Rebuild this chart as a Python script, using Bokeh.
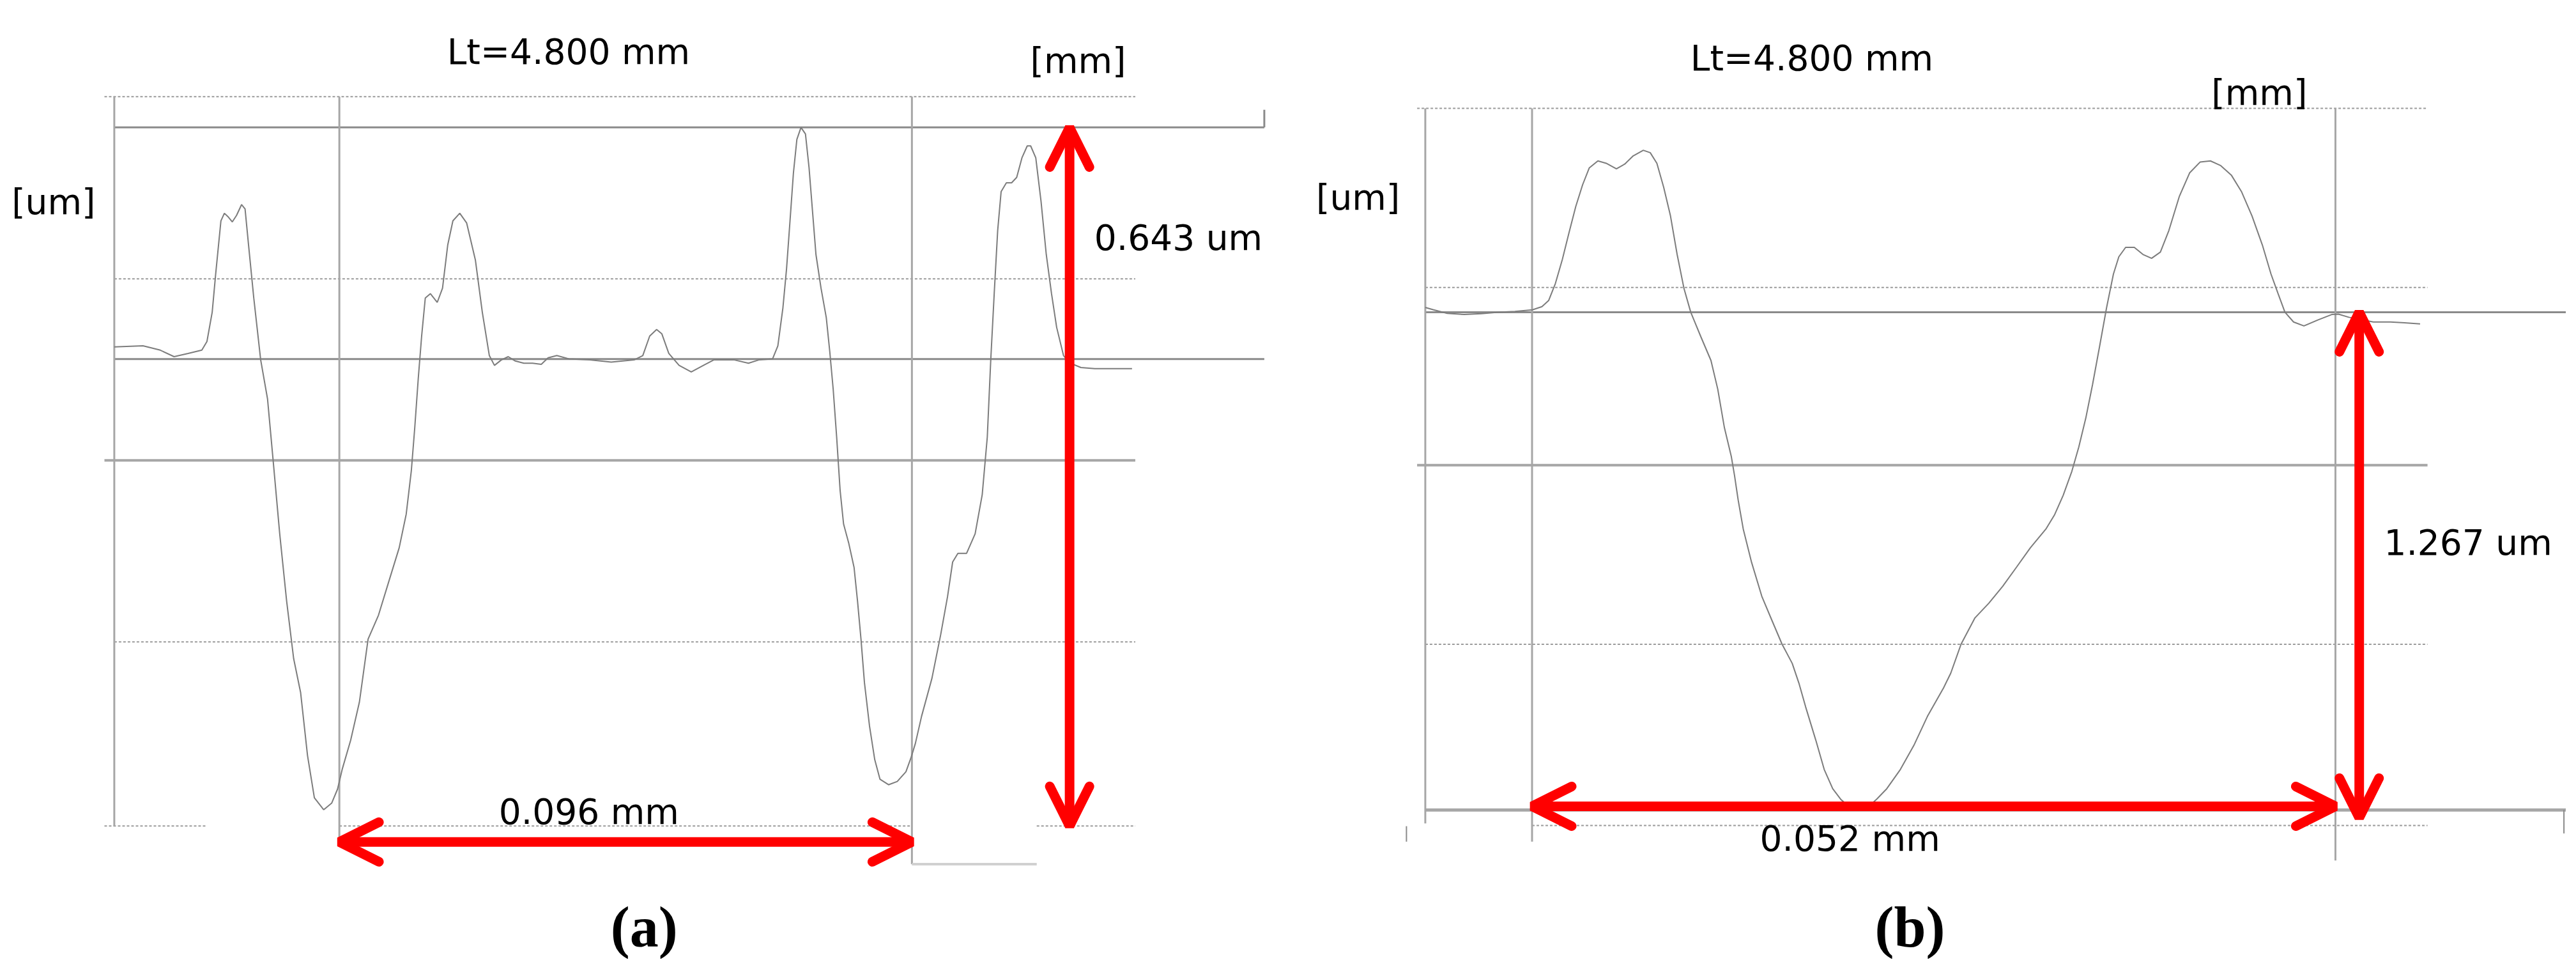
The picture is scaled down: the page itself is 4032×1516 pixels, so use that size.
from bokeh.plotting import figure
from bokeh.models import Range1d, Arrow, OpenHead, Label
from bokeh.layouts import row
from bokeh.embed import file_html
from bokeh.resources import INLINE

# ---------------- panel (a) data : x in mm, z in um ----------------
a_x_mm = [0.0000, 0.00481, 0.00771, 0.01003, 0.01237, 0.01468, 0.01554, 0.01642, 0.01700, 0.01788,
          0.01846, 0.01904, 0.01978, 0.02050, 0.02135, 0.02193, 0.02251, 0.02339, 0.02455, 0.02570,
          0.02658, 0.02774, 0.02890, 0.03008, 0.03124, 0.03240, 0.03355, 0.03512, 0.03645, 0.03744,
          0.03821, 0.03964, 0.04110, 0.04256, 0.04430, 0.04603, 0.04777, 0.04895, 0.04981, 0.05039,
          0.05096, 0.05154, 0.05215, 0.05300, 0.05416, 0.05504, 0.05592, 0.05678, 0.05793, 0.05909,
          0.06055, 0.06171, 0.06289, 0.06375, 0.06490, 0.06606, 0.06725, 0.06868, 0.07014, 0.07160,
          0.07275, 0.07421, 0.07623, 0.07975, 0.08333, 0.08716, 0.08862, 0.08978, 0.09094, 0.09182,
          0.09298, 0.09471, 0.09675, 0.09879, 0.10052, 0.10226, 0.10399, 0.10634, 0.10807, 0.11039,
          0.11127, 0.11212, 0.11273, 0.11331, 0.11388, 0.11446, 0.11515, 0.11590, 0.11650, 0.11708,
          0.11766, 0.11851, 0.11939, 0.11997, 0.12055, 0.12113, 0.12171, 0.12229, 0.12317, 0.12405,
          0.12463, 0.12521, 0.12579, 0.12664, 0.12752, 0.12840, 0.12983, 0.13129, 0.13275, 0.13361,
          0.13433, 0.13537, 0.13711, 0.13857, 0.13972, 0.14058, 0.14146, 0.14292, 0.14435, 0.14554,
          0.14639, 0.14697, 0.14755, 0.14813, 0.14871, 0.14959, 0.15047, 0.15132, 0.15220, 0.15309,
          0.15366, 0.15452, 0.15540, 0.15628, 0.15716, 0.15802, 0.15917, 0.16033, 0.16209, 0.16441,
          0.16730, 0.17066]
a_z_um = [0.441, 0.442, 0.438, 0.432, 0.435, 0.438, 0.446, 0.473, 0.508, 0.557,
          0.564, 0.561, 0.556, 0.562, 0.572, 0.568, 0.535, 0.486, 0.429, 0.393,
          0.340, 0.269, 0.207, 0.154, 0.123, 0.065, 0.026, 0.015, 0.021, 0.034,
          0.052, 0.079, 0.114, 0.172, 0.194, 0.225, 0.256, 0.287, 0.327, 0.367,
          0.411, 0.451, 0.486, 0.490, 0.482, 0.495, 0.535, 0.557, 0.564, 0.555,
          0.521, 0.473, 0.433, 0.424, 0.429, 0.432, 0.428, 0.426, 0.426, 0.425,
          0.431, 0.433, 0.430, 0.429, 0.427, 0.429, 0.433, 0.451, 0.457, 0.453,
          0.435, 0.424, 0.418, 0.424, 0.429, 0.429, 0.429, 0.426, 0.429, 0.430,
          0.442, 0.477, 0.513, 0.557, 0.601, 0.632, 0.643, 0.637, 0.606, 0.566,
          0.526, 0.495, 0.468, 0.437, 0.402, 0.358, 0.309, 0.278, 0.260, 0.238,
          0.207, 0.172, 0.132, 0.092, 0.061, 0.043, 0.038, 0.041, 0.050, 0.063,
          0.076, 0.101, 0.136, 0.176, 0.211, 0.243, 0.251, 0.251, 0.269, 0.305,
          0.358, 0.429, 0.490, 0.548, 0.584, 0.592, 0.592, 0.597, 0.615, 0.626,
          0.626, 0.615, 0.575, 0.526, 0.490, 0.459, 0.433, 0.426, 0.422, 0.421,
          0.421, 0.421]
a_grid_um = [0.0, 0.1694, 0.3365, 0.5036, 0.6713]
a_peak_um = 0.643
a_mean_um = 0.4298
a_cursor_mm = [0.03774, 0.13375]
a_title = "Lt=4.800 mm"
a_height_label = "0.643 um"
a_width_label = "0.096 mm"
a_tag = "(a)"

# ---------------- panel (b) data : x in mm, z in um ----------------
b_x_mm = [0.00000, 0.00054, 0.00142, 0.00252, 0.00362, 0.00471, 0.00580, 0.00693, 0.00755, 0.00799,
          0.00842, 0.00887, 0.00930, 0.00974, 0.01018, 0.01061, 0.01117, 0.01171, 0.01237, 0.01291,
          0.01346, 0.01411, 0.01456, 0.01499, 0.01543, 0.01587, 0.01630, 0.01674, 0.01718, 0.01783,
          0.01849, 0.01893, 0.01936, 0.01981, 0.02002, 0.02025, 0.02058, 0.02112, 0.02178, 0.02243,
          0.02309, 0.02375, 0.02418, 0.02462, 0.02528, 0.02582, 0.02637, 0.02691, 0.02747, 0.02813,
          0.02867, 0.02921, 0.02987, 0.03075, 0.03162, 0.03250, 0.03355, 0.03401, 0.03468, 0.03558,
          0.03647, 0.03737, 0.03827, 0.03916, 0.04017, 0.04074, 0.04129, 0.04185, 0.04230, 0.04275,
          0.04319, 0.04365, 0.04410, 0.04454, 0.04489, 0.04533, 0.04589, 0.04645, 0.04701, 0.04758,
          0.04813, 0.04880, 0.04948, 0.05015, 0.05082, 0.05149, 0.05217, 0.05284, 0.05351, 0.05418,
          0.05474, 0.05519, 0.05564, 0.05620, 0.05687, 0.05777, 0.05867, 0.05911, 0.05978, 0.06046,
          0.06136, 0.06247, 0.06338, 0.06439]
b_z_um = [1.279, 1.273, 1.264, 1.261, 1.263, 1.267, 1.269, 1.273, 1.281, 1.297,
          1.340, 1.401, 1.469, 1.536, 1.591, 1.634, 1.652, 1.646, 1.632, 1.644,
          1.665, 1.679, 1.673, 1.646, 1.585, 1.512, 1.414, 1.328, 1.267, 1.205,
          1.144, 1.071, 0.973, 0.899, 0.850, 0.789, 0.715, 0.630, 0.544, 0.483,
          0.422, 0.373, 0.323, 0.262, 0.177, 0.103, 0.054, 0.026, 0.008, 0.000,
          0.008, 0.027, 0.054, 0.103, 0.164, 0.238, 0.311, 0.348, 0.422, 0.489,
          0.526, 0.569, 0.618, 0.667, 0.715, 0.752, 0.801, 0.862, 0.924, 0.997,
          1.083, 1.181, 1.279, 1.364, 1.408, 1.432, 1.432, 1.414, 1.404, 1.420,
          1.475, 1.561, 1.622, 1.649, 1.652, 1.640, 1.616, 1.573, 1.512, 1.438,
          1.364, 1.315, 1.267, 1.242, 1.232, 1.247, 1.261, 1.262, 1.254, 1.249,
          1.242, 1.242, 1.240, 1.237]
b_grid_um = [-0.0397, 0.4218, 0.8774, 1.330, 1.786]
b_mean_um = 1.267
b_valley_um = 0.0
b_cursor_mm = [0.00691, 0.05891]
b_title = "Lt=4.800 mm"
b_height_label = "1.267 um"
b_width_label = "0.052 mm"
b_tag = "(b)"

unit_x = "[mm]"
unit_z = "[um]"

# ---------------- styles ----------------
GRID_C = "#9c9c9c"
LINE_C = "#8a8a8a"
THICK_C = "#a6a6a6"
PROF_C = "#7c7c7c"
RED = "#ff0000"
SANS = "DejaVu Sans"
FS = "55px"


def base_fig(xr, yr):
    p = figure(width=2008, height=1500, x_range=Range1d(*xr), y_range=Range1d(*yr),
               x_axis_type=None, y_axis_type=None, toolbar_location=None,
               output_backend="svg", min_border=0, outline_line_color=None,
               background_fill_color="white", border_fill_color="white")
    return p


def arrow(p, x0, y0, x1, y1):
    p.add_layout(Arrow(x_start=x0, y_start=y0, x_end=x1, y_end=y1,
                       line_color=RED, line_width=15,
                       start=OpenHead(size=62, line_color=RED, line_width=15, line_cap="round"),
                       end=OpenHead(size=62, line_color=RED, line_width=15, line_cap="round")))


def label(p, x, y, text, align="left", font=SANS, size=FS, style="normal"):
    p.add_layout(Label(x=x, y=y, text=text, text_font=font, text_font_size=size,
                       text_font_style=style, text_align=align, text_baseline="middle",
                       text_color="black"))


# ================= panel (a) =================
pa = base_fig((-0.01911, 0.19601), (-0.1225, 0.7600))
ax_l, ax_r, ax_ext = -0.00165, 0.17121, 0.19284
g = a_grid_um
# dotted grid
pa.segment(x0=[ax_l, 0, 0], y0=[g[4], g[3], g[1]], x1=[ax_r] * 3, y1=[g[4], g[3], g[1]],
           line_color=GRID_C, line_width=2, line_dash="4 3")
pa.segment(x0=[ax_l, a_cursor_mm[0], 0.15468], y0=[g[0]] * 3,
           x1=[0.01543, a_cursor_mm[1], ax_r], y1=[g[0]] * 3,
           line_color=GRID_C, line_width=2, line_dash="4 3")
# middle solid line
pa.segment(x0=[ax_l], y0=[g[2]], x1=[ax_r], y1=[g[2]], line_color=THICK_C, line_width=4)
# peak and mean lines
pa.segment(x0=[0, 0], y0=[a_peak_um, a_mean_um], x1=[ax_ext, ax_ext], y1=[a_peak_um, a_mean_um],
           line_color=LINE_C, line_width=3)
pa.segment(x0=[ax_ext], y0=[a_peak_um], x1=[ax_ext], y1=[0.6593], line_color=LINE_C, line_width=3)
# verticals
pa.segment(x0=[0, a_cursor_mm[0], a_cursor_mm[1]], y0=[g[0], -0.0174, -0.0351],
           x1=[0, a_cursor_mm[0], a_cursor_mm[1]], y1=[g[4]] * 3,
           line_color=THICK_C, line_width=3)
pa.segment(x0=[a_cursor_mm[1]], y0=[-0.0351], x1=[0.15468], y1=[-0.0351],
           line_color="#d0d0d0", line_width=4)
# profile
pa.line(a_x_mm, a_z_um, line_color=PROF_C, line_width=2)
# arrows
arrow(pa, a_cursor_mm[0], -0.0147, a_cursor_mm[1], -0.0147)
arrow(pa, 0.16019, g[0], 0.16019, a_peak_um)
# texts
label(pa, 0.07617, 0.7127, a_title, align="center")
label(pa, 0.15358, 0.7042, unit_x)
label(pa, -0.01722, 0.5741, unit_z)
label(pa, 0.16433, 0.5416, a_height_label)
label(pa, 0.0796, 0.0129, a_width_label, align="center")
label(pa, 0.08884, -0.0930, a_tag, align="center", font="Liberation Serif", size="90px", style="bold")

# ================= panel (b) =================
pb = base_fig((-0.009197, 0.07384), (-0.3797, 2.0608))
bx_l, bx_r, bx_ext = -0.00053, 0.06487, 0.0739
g = b_grid_um
pb.segment(x0=[bx_l, 0, 0], y0=[g[4], g[3], g[1]], x1=[bx_r] * 3, y1=[g[4], g[3], g[1]],
           line_color=GRID_C, line_width=2, line_dash="4 3")
pb.segment(x0=[b_cursor_mm[0]], y0=[g[0]], x1=[bx_r], y1=[g[0]],
           line_color=GRID_C, line_width=2, line_dash="4 3")
pb.segment(x0=[bx_l], y0=[g[2]], x1=[bx_r], y1=[g[2]], line_color=THICK_C, line_width=4)
pb.segment(x0=[0], y0=[b_mean_um], x1=[bx_ext], y1=[b_mean_um], line_color=LINE_C, line_width=3)
pb.segment(x0=[0], y0=[b_valley_um], x1=[bx_ext], y1=[b_valley_um], line_color=THICK_C, line_width=5)
pb.segment(x0=[0, b_cursor_mm[0], b_cursor_mm[1]], y0=[-0.0343, -0.0808, -0.1289],
           x1=[0, b_cursor_mm[0], b_cursor_mm[1]], y1=[g[4]] * 3,
           line_color=THICK_C, line_width=3)
pb.segment(x0=[-0.00122, 0.0737], y0=[-0.0414, 0.0], x1=[-0.00122, 0.0737], y1=[-0.0808, -0.0598],
           line_color=LINE_C, line_width=2)
pb.line(b_x_mm, b_z_um, line_color=PROF_C, line_width=2)
arrow(pb, b_cursor_mm[0], 0.0092, b_cursor_mm[1], 0.0092)
arrow(pb, 0.06045, b_valley_um - 0.02, 0.06045, b_mean_um)
label(pb, 0.02502, 1.914, b_title, align="center")
label(pb, 0.05088, 1.826, unit_x)
label(pb, -0.00707, 1.559, unit_z)
label(pb, 0.06205, 0.681, b_height_label)
label(pb, 0.02749, -0.0724, b_width_label, align="center")
label(pb, 0.03137, -0.2983, b_tag, align="center", font="Liberation Serif", size="90px", style="bold")

layout = row(pa, pb, spacing=0)
open("out.html", "w").write(file_html(layout, INLINE))
